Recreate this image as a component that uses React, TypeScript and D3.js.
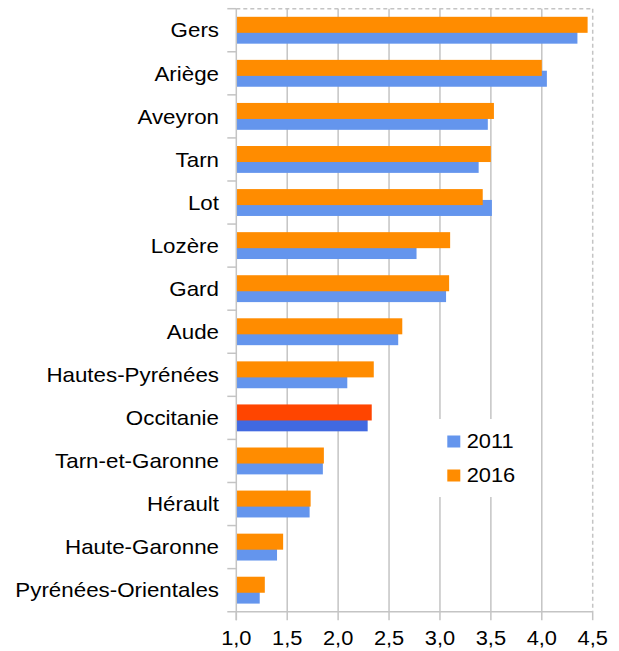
import React from "react";
import * as d3 from "d3";

const categories = [
  "Gers", "Ariège", "Aveyron", "Tarn", "Lot", "Lozère", "Gard", "Aude",
  "Hautes-Pyrénées", "Occitanie", "Tarn-et-Garonne", "Hérault", "Haute-Garonne", "Pyrénées-Orientales",
];
const values2011 = [4.35, 4.05, 3.47, 3.38, 3.51, 2.77, 3.06, 2.59, 2.09, 2.29, 1.85, 1.72, 1.40, 1.23];
const values2016 = [4.45, 4.0, 3.53, 3.50, 3.42, 3.10, 3.09, 2.63, 2.35, 2.33, 1.86, 1.73, 1.46, 1.28];
const xTicks = [1.0, 1.5, 2.0, 2.5, 3.0, 3.5, 4.0, 4.5];
const seriesNames = ["2011", "2016"];
const highlight = "Occitanie";

const W = 619, H = 651;
const FONT = "'Liberation Sans', Arial, sans-serif";
const FS = 20.5;
const SX = 1.065;
const SXL = 1.09;

export default function App() {
  const x = d3.scaleLinear().domain([1, 4.5]).range([236.3, 592.7]);
  const y = d3.scaleBand<string>().domain(categories).range([8.7, 611.7]).padding(0);
  const bw = y.bandwidth();
  const barH = bw * 0.372;
  const grid = "#c4c4c4";
  const fmt = (v: number) => v.toFixed(1).replace(".", ",");
  const x0 = x(1);
  const top = y.range()[0];
  const bottom = y.range()[1];
  const right = x(4.5);

  return (
    <svg width={W} height={H} style={{ position: "absolute", left: 0, top: 0, background: "#fff" }}>
      <rect x={0} y={0} width={W} height={H} fill="#fff" />
      {xTicks.slice(1, -1).map((t) => (
        <line key={t} x1={x(t)} x2={x(t)} y1={top} y2={bottom} stroke={grid} strokeWidth={1.5} />
      ))}
      <line x1={x0} x2={right} y1={top} y2={top} stroke={grid} strokeWidth={1.5} strokeDasharray="4,3" />
      <line x1={right} x2={right} y1={top} y2={bottom} stroke={grid} strokeWidth={1.5} strokeDasharray="4,3" />
      {categories.map((c, i) => {
        const cy = (y(c) as number) + bw / 2;
        const hi = c === highlight;
        return (
          <g key={c}>
            <rect x={x0} y={cy + bw * 0.312 - barH} width={x(values2011[i]) - x0} height={barH}
              fill={hi ? "#4169e1" : "#6495ed"} />
            <rect x={x0} y={cy - bw * 0.312} width={x(values2016[i]) - x0} height={barH}
              fill={hi ? "#ff4500" : "#ff8c00"} />
          </g>
        );
      })}
      <line x1={x0} x2={x0} y1={top} y2={bottom + 8.5} stroke={grid} strokeWidth={1.5} />
      <line x1={x0 - 9} x2={right} y1={bottom} y2={bottom} stroke={grid} strokeWidth={1.5} />
      {categories.map((c) => (
        <line key={"t" + c} x1={x0 - 9} x2={x0} y1={y(c) as number} y2={y(c) as number} stroke={grid} strokeWidth={1.5} />
      ))}
      {xTicks.map((t) => (
        <line key={"xt" + t} x1={x(t)} x2={x(t)} y1={bottom} y2={bottom + 8.5} stroke={grid} strokeWidth={1.5} />
      ))}
      {categories.map((c) => (
        <text key={"l" + c} transform={`translate(219,${(y(c) as number) + bw / 2 + 7.2}) scale(${SXL},1)`}
          textAnchor="end" fontFamily={FONT} fontSize={FS} fill="#000">{c}</text>
      ))}
      {xTicks.map((t) => (
        <text key={"xl" + t} transform={`translate(${x(t)},645) scale(${SX},1)`} textAnchor="middle"
          fontFamily={FONT} fontSize={FS} fill="#000">{fmt(t)}</text>
      ))}
      <rect x={432} y={419} width={96} height={78} fill="#fff" />
      {seriesNames.map((s, i) => (
        <g key={s}>
          <rect x={447.3} y={435.5 + i * 34} width={13} height={12} fill={i === 0 ? "#6495ed" : "#ff8c00"} />
          <text transform={`translate(466.7,${448.3 + i * 34}) scale(${SX},1)`} fontFamily={FONT} fontSize={FS} fill="#000">{s}</text>
        </g>
      ))}
    </svg>
  );
}
